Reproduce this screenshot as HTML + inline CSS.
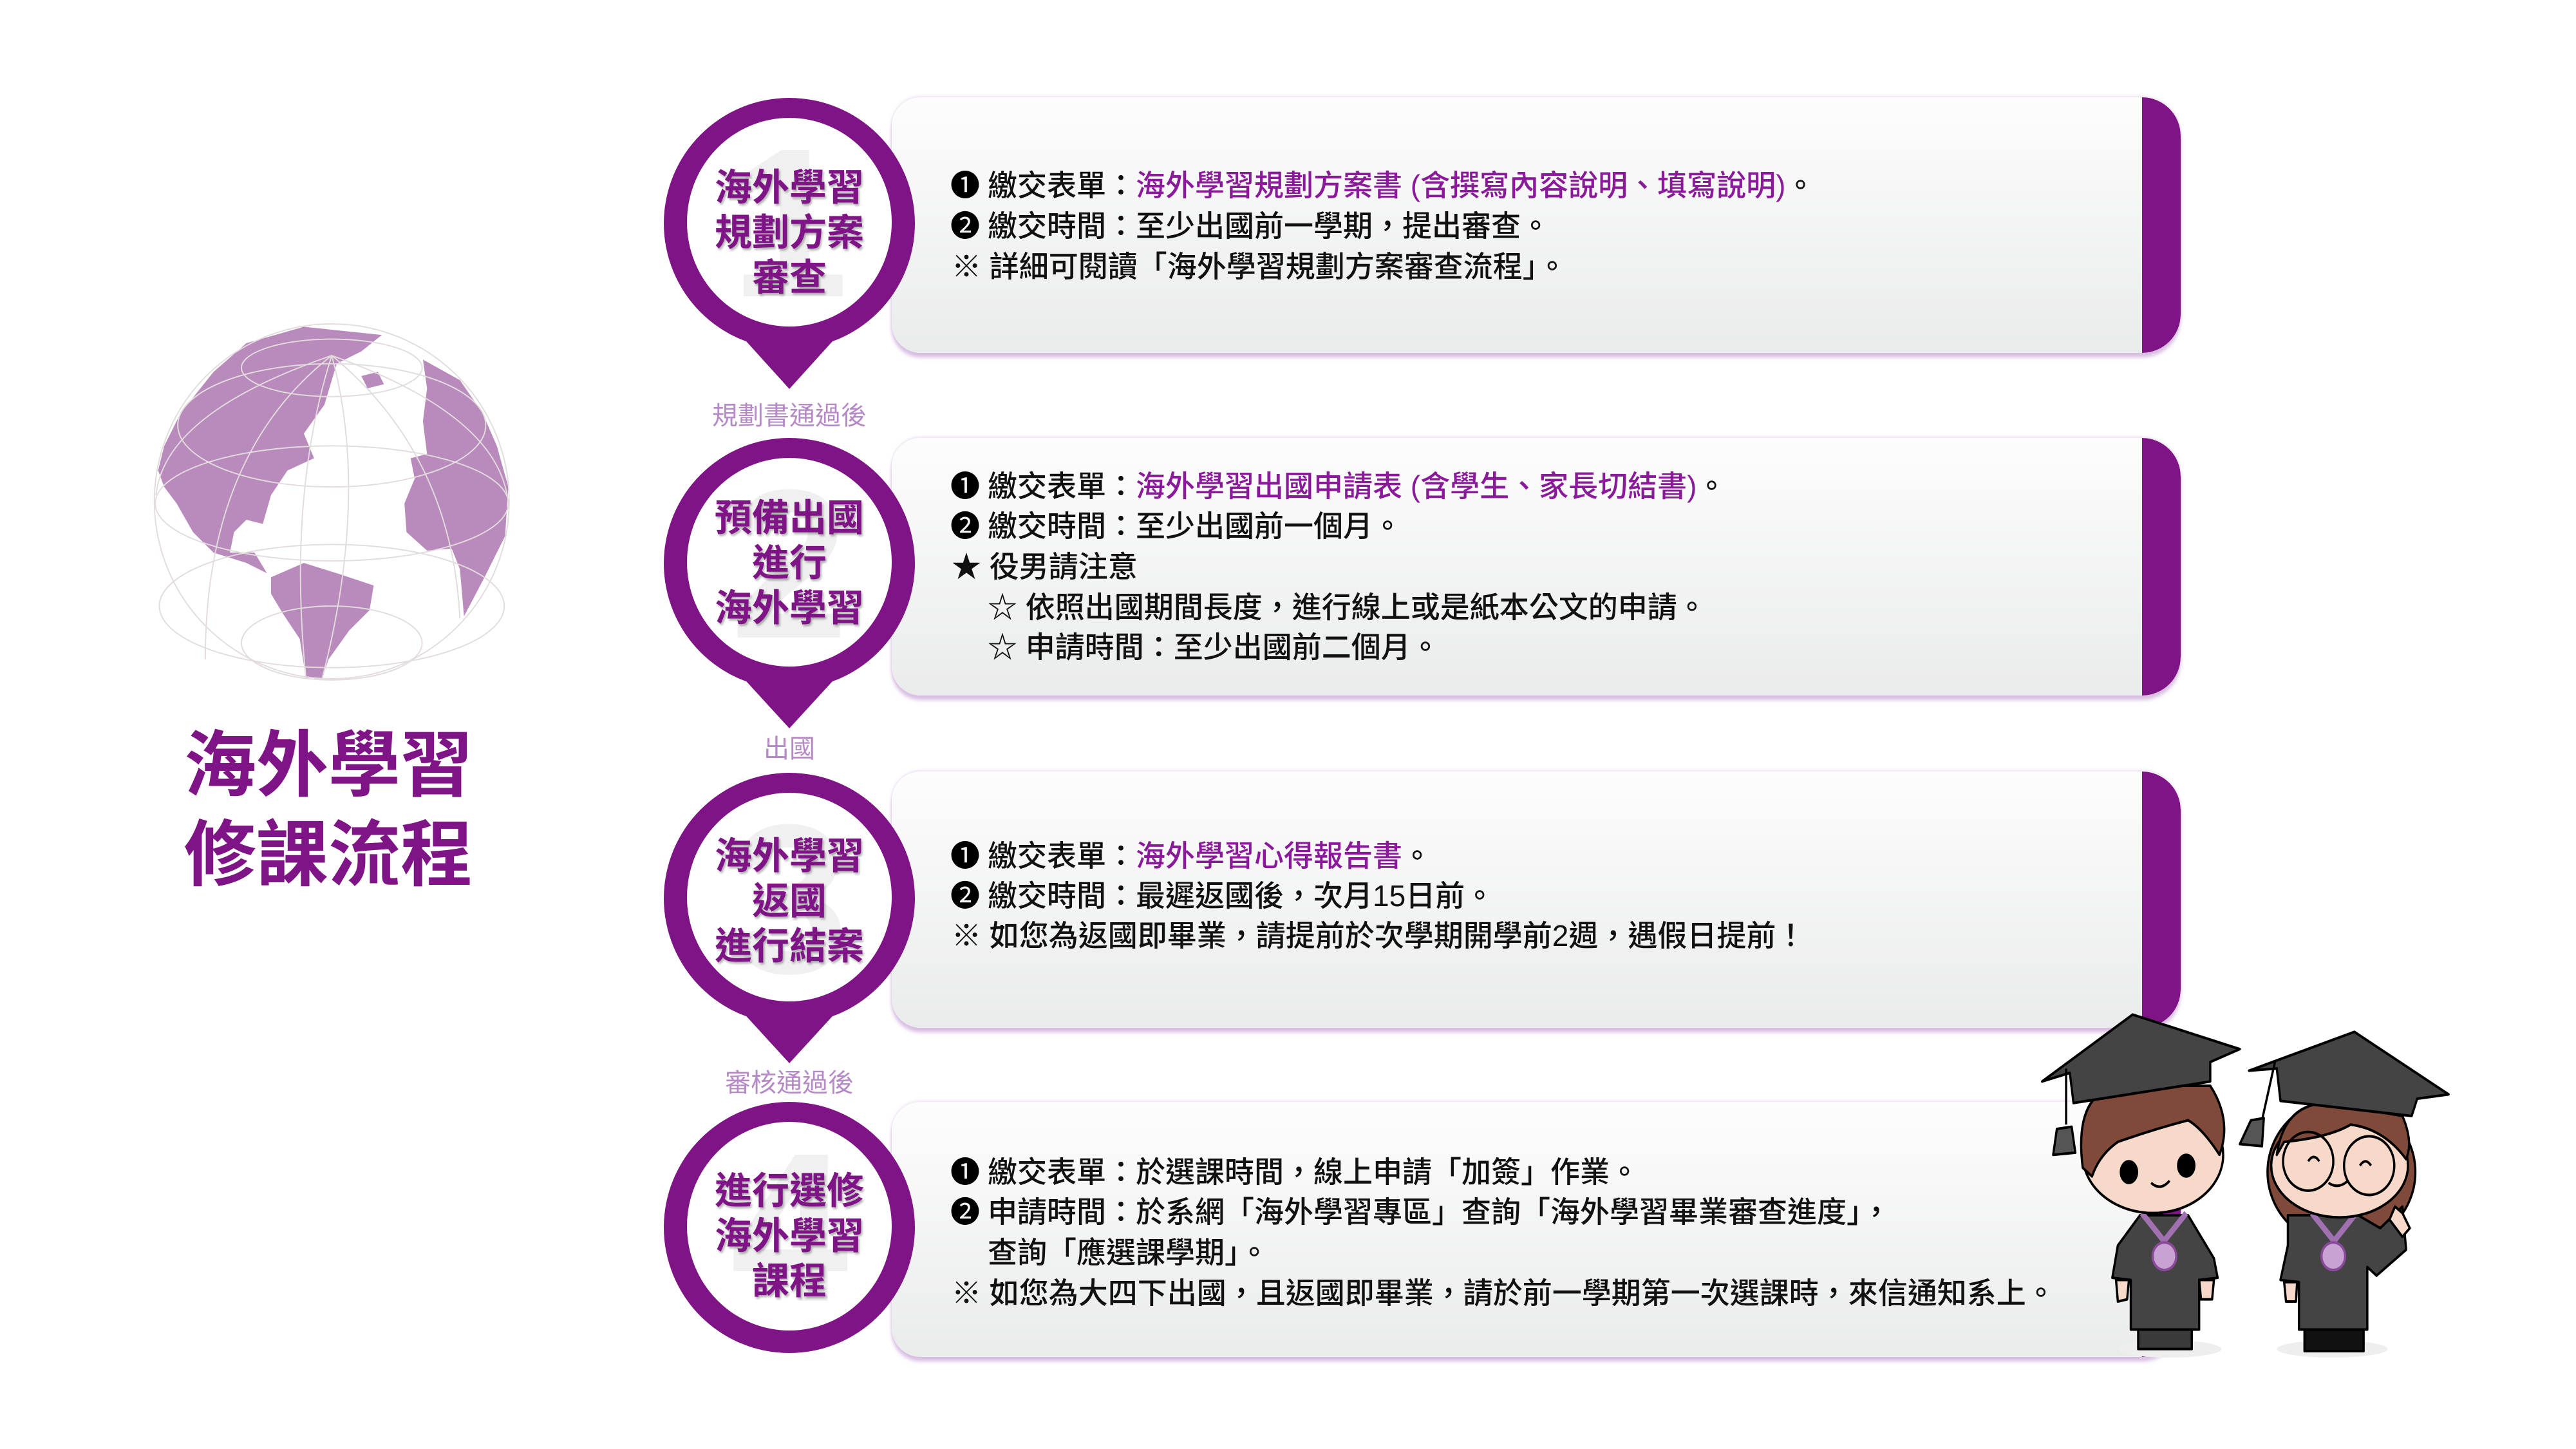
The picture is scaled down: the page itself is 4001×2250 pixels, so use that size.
<!DOCTYPE html>
<html><head><meta charset="utf-8">
<style>
html,body{margin:0;padding:0;}
body{width:4001px;height:2250px;position:relative;background:#fff;overflow:hidden;font-family:"Liberation Sans","Noto Sans CJK TC",sans-serif;}
.card{position:absolute;left:1385px;width:2002px;border-radius:45px 60px 60px 45px;background:linear-gradient(#fdfdfd,#eaebeb);box-shadow:0 7px 6px rgba(170,110,190,0.45),0 -2px 4px rgba(200,170,215,0.35);overflow:hidden;}
.card .bar{position:absolute;right:0;top:0;bottom:0;width:60px;background:#7f1486;border-radius:0 60px 60px 0;}
.t{position:absolute;font-size:46px;line-height:60px;color:#111;white-space:nowrap;font-weight:500;}
.t .p{color:#8a1a9a;}
.ic{position:absolute;left:1476px;font-size:46px;line-height:60px;color:#000;}
.lbl{position:absolute;left:1026px;width:400px;text-align:center;color:#b68ac6;font-size:40px;line-height:50px;}
.ct{position:absolute;left:1031px;width:390px;text-align:center;color:#7f1486;font-weight:bold;font-size:58px;line-height:70px;text-shadow:2px 3px 3px rgba(0,0,0,0.3);}
.title{position:absolute;left:230px;width:560px;text-align:center;color:#7f1486;font-weight:bold;font-size:112px;line-height:140px;}
</style></head><body>

<!-- globe -->
<svg style="position:absolute;left:0;top:450px" width="1000" height="1000" viewBox="0 0 1568 1568">
<g fill="#b98bbd">
<path d="M440,300 L520,200 L600,130 L740,90 L930,110 L880,150 L820,180 L790,280 L740,350 L765,410 L700,440 L660,500 L640,570 L600,560 L570,590 L560,640 L620,640 L650,690 L600,665 L520,640 L470,590 L430,520 L400,480 L385,440 L400,380 Z"/>
<path d="M660,700 L740,665 L820,690 L910,720 L900,780 L850,830 L800,900 L785,945 L745,945 L730,850 L690,790 L660,740 Z"/>
<path d="M1030,170 L1120,220 L1175,300 L1210,380 L1238,480 L1230,600 L1180,700 L1130,795 L1120,680 L1100,630 L1040,635 L990,590 L985,520 L1010,460 L1000,410 L1040,400 L1030,320 L1040,240 Z"/>
<path d="M880,210 L920,200 L935,230 L895,240 Z"/>
</g>
<g fill="none" stroke="#e2dcdc" stroke-width="3">
<circle cx="808" cy="515" r="432"/>
<ellipse cx="808" cy="190" rx="220" ry="70"/>
<ellipse cx="808" cy="330" rx="375" ry="150"/>
<ellipse cx="808" cy="520" rx="430" ry="140"/>
<ellipse cx="808" cy="770" rx="420" ry="150"/>
<ellipse cx="808" cy="860" rx="220" ry="90"/>
<path d="M808,160 Q700,500 745,945"/><path d="M808,160 Q900,500 785,945"/>
<path d="M808,160 Q500,400 500,900"/><path d="M808,160 Q1100,400 1120,800"/>
<path d="M808,160 Q400,300 380,500"/><path d="M808,160 Q1200,300 1235,500"/>
</g>
</svg>
<div class="title" style="top:1119px">海外學習</div>
<div class="title" style="top:1258px">修課流程</div>

<!-- cards -->
<div class="card" style="top:151px;height:397px"><div class="bar"></div></div>
<div class="card" style="top:680px;height:400px"><div class="bar"></div></div>
<div class="card" style="top:1198px;height:398px"><div class="bar"></div></div>
<div class="card" style="top:1711px;height:396px"><div class="bar"></div></div>

<!-- pins -->
<svg style="position:absolute;left:0;top:0" width="1500" height="2250">
<g fill="#7f1486">
<circle cx="1226" cy="347" r="195"/><path d="M1150,520 L1226,604 L1302,520 Z"/>
<circle cx="1226" cy="875" r="195"/><path d="M1150,1048 L1226,1131 L1302,1048 Z"/>
<circle cx="1226" cy="1395" r="195"/><path d="M1150,1568 L1226,1651 L1302,1568 Z"/>
<circle cx="1226" cy="1906" r="195"/>
</g>
<g fill="#fff"><ellipse cx="1226" cy="345" rx="159" ry="162"/><ellipse cx="1226" cy="873" rx="159" ry="162"/><ellipse cx="1226" cy="1393" rx="159" ry="162"/><ellipse cx="1226" cy="1904" rx="159" ry="162"/></g>
<g fill="#f0f0f0" font-family="Liberation Sans" font-weight="bold" font-size="330" text-anchor="middle">
<text x="1226" y="460">1</text><text x="1226" y="990">2</text><text x="1226" y="1510">3</text><text x="1226" y="2020">4</text>
</g>
</svg>
<div class="ct" style="top:257px">海外學習<br>規劃方案<br>審查</div>
<div class="ct" style="top:770px">預備出國<br>進行<br>海外學習</div>
<div class="ct" style="top:1295px">海外學習<br>返國<br>進行結案</div>
<div class="ct" style="top:1815px">進行選修<br>海外學習<br>課程</div>

<div class="lbl" style="top:621px">規劃書通過後</div>
<div class="lbl" style="top:1138px">出國</div>
<div class="lbl" style="top:1657px">審核通過後</div>

<!-- card 1 text -->
<div class="ic" style="top:258px">❶</div><div class="t" style="left:1534px;top:258px">繳交表單：<span class="p">海外學習規劃方案書 (含撰寫內容說明、填寫說明)</span>。</div>
<div class="ic" style="top:321px">❷</div><div class="t" style="left:1534px;top:321px">繳交時間：至少出國前一學期，提出審查。</div>
<div class="t" style="left:1478px;top:384px">※ 詳細可閱讀「海外學習規劃方案審查流程」。</div>

<!-- card 2 -->
<div class="ic" style="top:725px">❶</div><div class="t" style="left:1534px;top:725px">繳交表單：<span class="p">海外學習出國申請表 (含學生、家長切結書)</span>。</div>
<div class="ic" style="top:787px">❷</div><div class="t" style="left:1534px;top:787px">繳交時間：至少出國前一個月。</div>
<div class="t" style="left:1478px;top:850px">★ 役男請注意</div>
<div class="t" style="left:1534px;top:913px">☆ 依照出國期間長度，進行線上或是紙本公文的申請。</div>
<div class="t" style="left:1534px;top:975px">☆ 申請時間：至少出國前二個月。</div>

<!-- card 3 -->
<div class="ic" style="top:1299px">❶</div><div class="t" style="left:1534px;top:1299px">繳交表單：<span class="p">海外學習心得報告書</span>。</div>
<div class="ic" style="top:1361px">❷</div><div class="t" style="left:1534px;top:1361px">繳交時間：最遲返國後，次月15日前。</div>
<div class="t" style="left:1478px;top:1423px">※ 如您為返國即畢業，請提前於次學期開學前2週，遇假日提前！</div>

<!-- card 4 -->
<div class="ic" style="top:1790px">❶</div><div class="t" style="left:1534px;top:1790px">繳交表單：於選課時間，線上申請「加簽」作業。</div>
<div class="ic" style="top:1852px">❷</div><div class="t" style="left:1534px;top:1852px">申請時間：於系網「海外學習專區」查詢「海外學習畢業審查進度」，</div>
<div class="t" style="left:1534px;top:1915px">查詢「應選課學期」。</div>
<div class="t" style="left:1478px;top:1978px">※ 如您為大四下出國，且返國即畢業，請於前一學期第一次選課時，來信通知系上。</div>

<!-- graduates -->
<svg style="position:absolute;left:0;top:0" width="4001" height="2250">
<g transform="translate(3100,1150) scale(0.574,0.67)" stroke="#000" stroke-width="6" stroke-linejoin="round">
<ellipse cx="470" cy="1410" rx="140" ry="20" fill="#eee" stroke="none"/>
<ellipse cx="910" cy="1410" rx="150" ry="20" fill="#eee" stroke="none"/>
<rect x="385" y="1355" width="145" height="55" fill="#3a3a3a"/>
<path d="M390,1100 L520,1100 L590,1200 L600,1245 L550,1250 L550,1365 L365,1365 L365,1250 L315,1245 L330,1170 Z" fill="#444"/>
<path d="M325,1250 L360,1250 L355,1295 L330,1300 Z M550,1250 L590,1250 L585,1295 L555,1295 Z" fill="#f6d9c8"/>
<path d="M395,1095 L455,1160 L515,1095" fill="none" stroke="#a070b0" stroke-width="14"/>
<circle cx="456" cy="1195" r="32" fill="#c9a2d4" stroke="#8a4a9a"/>
<ellipse cx="425" cy="960" rx="190" ry="135" fill="#f6d9c8"/>
<path d="M235,990 Q210,820 330,800 L580,800 Q640,880 605,960 Q560,900 520,880 Q430,900 330,930 Q280,960 260,1010 Z" fill="#7f4a3a"/>
<ellipse cx="360" cy="1000" rx="22" ry="25" fill="#000"/><ellipse cx="515" cy="985" rx="22" ry="25" fill="#000"/>
<path d="M420,1025 Q445,1045 470,1020" fill="none"/>
<path d="M125,790 L370,635 L660,715 L580,745 L580,790 L210,840 L200,770 Z" fill="#444"/>
<path d="M190,760 L190,890" fill="none"/><path d="M165,900 L205,895 L215,955 L155,960 Z" fill="#555"/>
<rect x="835" y="1360" width="160" height="55" fill="#111"/>
<ellipse cx="935" cy="1000" rx="200" ry="170" fill="#7f4a3a"/>
<path d="M790,1100 L980,1100 L1040,1130 L1100,1080 L1110,1180 L1030,1240 L1005,1220 L1005,1365 L820,1365 L820,1255 L770,1250 L790,1170 Z" fill="#444"/>
<path d="M780,1255 L815,1255 L812,1300 L785,1300 Z" fill="#f6d9c8"/>
<path d="M855,1095 L915,1160 L975,1095" fill="none" stroke="#a070b0" stroke-width="14"/>
<circle cx="913" cy="1195" r="32" fill="#c9a2d4" stroke="#8a4a9a"/>
<ellipse cx="930" cy="985" rx="185" ry="120" fill="#f6d9c8"/>
<path d="M760,960 Q780,840 900,840 L1100,870 Q1130,930 1110,970 Q1050,900 960,890 Q900,920 780,930 Z" fill="#7f4a3a"/>
<circle cx="845" cy="975" r="68" fill="none"/><circle cx="1010" cy="985" r="68" fill="none"/>
<path d="M845,975 Q860,955 875,975 M985,985 Q1000,965 1015,985 M900,1025 Q925,1040 950,1022" fill="none"/>
<path d="M685,765 L970,675 L1225,820 L1140,830 L1125,870 L770,835 L760,760 Z" fill="#444"/>
<path d="M755,745 L720,880" fill="none"/><path d="M690,880 L725,875 L720,940 L660,935 Z" fill="#555"/>
<path d="M1065,1110 L1080,1080 L1100,1095 L1120,1130 L1100,1150 Z" fill="#f6d9c8"/>
</g>
</svg>
</body></html>
